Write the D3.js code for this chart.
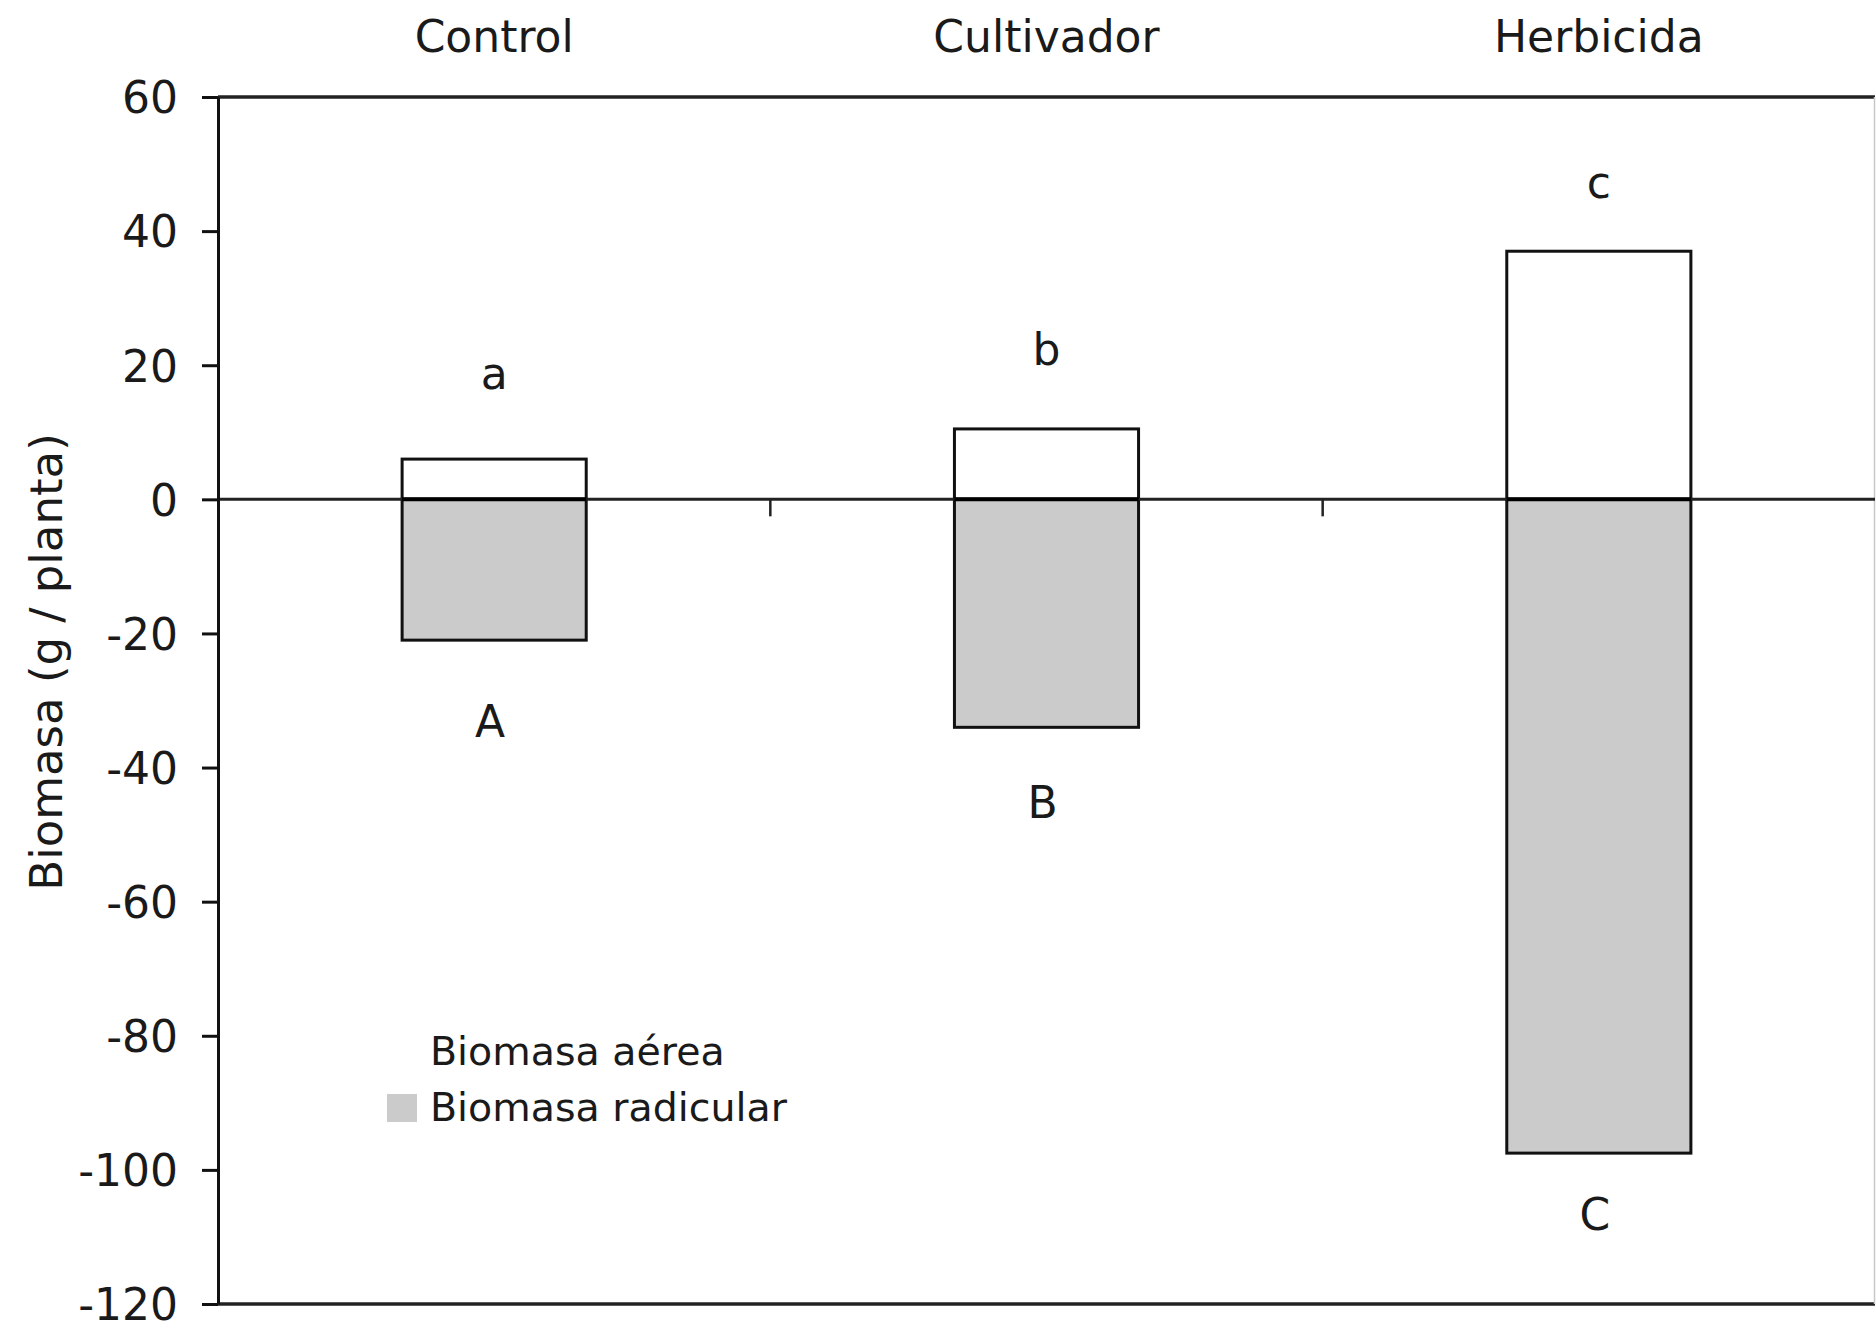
<!DOCTYPE html>
<html>
<head>
<meta charset="utf-8">
<script src="https://cdn.jsdelivr.net/npm/d3@7"></script>
<style>
  html, body { margin: 0; padding: 0; background: #fff; }
  svg text { font-family: "DejaVu Sans", Verdana, sans-serif; fill: #1a1a1a; }
</style>
</head>
<body>
<div id="chart"></div>
<script>
// data
const categories = ['Control', 'Cultivador', 'Herbicida'];
const aerea = [6, 10.5, 37];            // Biomasa aérea (g / planta)
const radicular = [-21, -34, -97.5];     // Biomasa radicular (g / planta)
const lettersAbove = ['a', 'b', 'c'];
const lettersBelow = ['A', 'B', 'C'];
const lettersAboveAt = [16.5, 20, 45];   // baseline of the letter, in axis units
const lettersBelowAt = [-35.5, -47.5, -109];
const yTicks = [60, 40, 20, 0, -20, -40, -60, -80, -100, -120];
const seriesNames = ['Biomasa aérea', 'Biomasa radicular'];

const W = 1876, H = 1325;
const margin = { top: 97, right: 1, bottom: 21, left: 218 };
const gray = '#cbcbcb';

const svg = d3.select('#chart').append('svg')
    .attr('width', W)
    .attr('height', H);

const x = d3.scaleBand()
    .domain(categories)
    .range([margin.left, W - margin.right])
    .paddingInner(0)
    .paddingOuter(0);

const y = d3.scaleLinear()
    .domain([-120, 60])
    .range([H - margin.bottom, margin.top]);

const barW = x.bandwidth() / 3;

// plot frame (top, right, bottom)
svg.append('line')
    .attr('x1', margin.left).attr('x2', W - margin.right)
    .attr('y1', y(60)).attr('y2', y(60))
    .attr('stroke', '#222').attr('stroke-width', 3.5);
svg.append('line')
    .attr('x1', margin.left).attr('x2', W - margin.right)
    .attr('y1', y(-120)).attr('y2', y(-120))
    .attr('stroke', '#222').attr('stroke-width', 3.5);
svg.append('line')
    .attr('x1', W - margin.right - 0.5).attr('x2', W - margin.right - 0.5)
    .attr('y1', y(60)).attr('y2', y(-120))
    .attr('stroke', '#c8c8c8').attr('stroke-width', 1.5);

// bars
const rows = categories.map((c, i) => ({ cat: c, up: aerea[i], down: radicular[i] }));

svg.append('g').selectAll('rect.down')
    .data(rows)
    .join('rect')
    .attr('class', 'down')
    .attr('x', d => x(d.cat) + (x.bandwidth() - barW) / 2)
    .attr('width', barW)
    .attr('y', y(0))
    .attr('height', d => y(d.down) - y(0))
    .attr('fill', gray)
    .attr('stroke', '#111')
    .attr('stroke-width', 3);

svg.append('g').selectAll('rect.up')
    .data(rows)
    .join('rect')
    .attr('class', 'up')
    .attr('x', d => x(d.cat) + (x.bandwidth() - barW) / 2)
    .attr('width', barW)
    .attr('y', d => y(d.up))
    .attr('height', d => y(0) - y(d.up))
    .attr('fill', '#fff')
    .attr('stroke', '#111')
    .attr('stroke-width', 3);

// zero line (category axis) with ticks between categories
svg.append('line')
    .attr('x1', margin.left).attr('x2', W - margin.right)
    .attr('y1', y(0)).attr('y2', y(0))
    .attr('stroke', '#222').attr('stroke-width', 3);

svg.append('g').selectAll('line')
    .data(categories.slice(1))
    .join('line')
    .attr('x1', d => x(d)).attr('x2', d => x(d))
    .attr('y1', y(0)).attr('y2', y(0) + 17)
    .attr('stroke', '#222').attr('stroke-width', 2.5);

// darker outline where bars meet zero
svg.append('g').selectAll('line')
    .data(rows)
    .join('line')
    .attr('x1', d => x(d.cat) + (x.bandwidth() - barW) / 2)
    .attr('x2', d => x(d.cat) + (x.bandwidth() + barW) / 2)
    .attr('y1', y(0)).attr('y2', y(0))
    .attr('stroke', '#000').attr('stroke-width', 4);

// y axis
const yAxis = svg.append('g')
    .attr('transform', `translate(${margin.left},0)`)
    .call(d3.axisLeft(y)
        .tickValues(yTicks)
        .tickFormat(d => String(d))
        .tickSize(16)
        .tickSizeOuter(0)
        .tickPadding(24));
yAxis.select('.domain').attr('stroke', '#111').attr('stroke-width', 3);
yAxis.selectAll('.tick line').attr('stroke', '#111').attr('stroke-width', 3);
yAxis.selectAll('.tick text')
    .attr('font-size', 44)
    .attr('font-family', '"DejaVu Sans", Verdana, sans-serif')
    .attr('fill', '#1a1a1a')
    .attr('dy', '0.36em');

// category names across the top
svg.append('g').selectAll('text')
    .data(categories)
    .join('text')
    .attr('x', d => x(d) + x.bandwidth() / 2)
    .attr('y', 52)
    .attr('text-anchor', 'middle')
    .attr('font-size', 44)
    .text(d => d);

// significance letters
svg.append('g').selectAll('text')
    .data(categories)
    .join('text')
    .attr('x', d => x(d) + x.bandwidth() / 2)
    .attr('y', (d, i) => y(lettersAboveAt[i]))
    .attr('text-anchor', 'middle')
    .attr('font-size', 44)
    .text((d, i) => lettersAbove[i]);

svg.append('g').selectAll('text')
    .data(categories)
    .join('text')
    .attr('x', d => x(d) + x.bandwidth() / 2 - 4)
    .attr('y', (d, i) => y(lettersBelowAt[i]))
    .attr('text-anchor', 'middle')
    .attr('font-size', 44)
    .text((d, i) => lettersBelow[i]);

// y title
svg.append('text')
    .attr('transform', `translate(62,662) rotate(-90)`)
    .attr('text-anchor', 'middle')
    .attr('font-size', 45)
    .text('Biomasa (g / planta)');

// legend
const legend = svg.append('g').attr('transform', 'translate(387,1065)');
const legendFill = ['#fff', gray];
seriesNames.forEach((name, i) => {
    const g = legend.append('g').attr('transform', `translate(0,${i * 56})`);
    g.append('rect')
        .attr('x', 0).attr('y', -27)
        .attr('width', 30).attr('height', 28)
        .attr('fill', legendFill[i]);
    g.append('text')
        .attr('x', 43).attr('y', 0)
        .attr('font-size', 39.5)
        .text(name);
});
</script>
</body>
</html>
